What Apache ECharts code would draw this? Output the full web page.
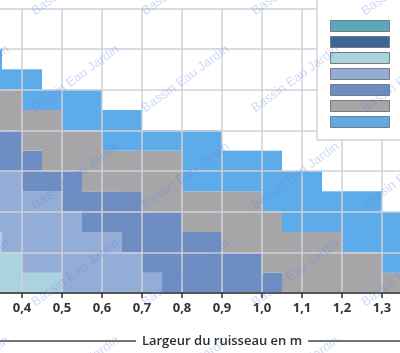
<!DOCTYPE html>
<html>
<head>
<meta charset="utf-8">
<script src="https://cdn.jsdelivr.net/npm/echarts@6/dist/echarts.min.js"></script>
<style>
  html, body { margin: 0; padding: 0; background: #fff; }
  #chart { width: 400px; height: 353px; }
</style>
</head>
<body>
<div id="chart"></div>
<script>
// bins of stream width (start of each 0,05 m step)
var bins = ['0,30', '0,35', '0,40', '0,45', '0,50', '0,55', '0,60', '0,65', '0,70', '0,75', '0,80',
  '0,85', '0,90', '0,95', '1,00', '1,05', '1,10', '1,15', '1,20', '1,25', '1,30']
var tickLabels = ['0,3', '0,4', '0,5', '0,6', '0,7', '0,8', '0,9', '1,0', '1,1', '1,2', '1,3']

// layer thickness per bin, bottom layer first (units of half a grid step)
var teal =       [0, 0, 0, 0, 0, 0, 0, 0, 0, 0, 0, 0, 0, 0, 0, 0, 0, 0, 0, 0, 0]
var darkBlue =   [0, 0, 0, 0, 0, 0, 0, 0, 0, 0, 0, 0, 0, 0, 0, 0, 0, 0, 0, 0, 0]
var lightCyan =  [3, 2, 1, 1, 0, 0, 0, 0, 0, 0, 0, 0, 0, 0, 0, 0, 0, 0, 0, 0, 0]
var periwinkle = [3, 4, 4, 4, 4, 3, 3, 2, 1, 0, 0, 0, 0, 0, 0, 0, 0, 0, 0, 0, 0]
var medium =     [2, 2, 2, 1, 2, 2, 2, 3, 3, 4, 3, 3, 2, 2, 1, 0, 0, 0, 0, 0, 0]
var grey =       [2, 2, 2, 3, 2, 3, 2, 2, 3, 3, 2, 2, 3, 3, 3, 3, 3, 3, 2, 2, 1]
var blue =       [2, 1, 2, 1, 2, 2, 2, 2, 1, 1, 3, 3, 2, 2, 3, 3, 3, 2, 3, 3, 3]

var layers = [
  { name: 'Série 1', color: '#5ba8bc', data: teal },
  { name: 'Série 2', color: '#3f6698', data: darkBlue },
  { name: 'Série 3', color: '#a9d3df', data: lightCyan },
  { name: 'Série 4', color: '#94add7', data: periwinkle },
  { name: 'Série 5', color: '#6e8ec3', data: medium },
  { name: 'Série 6', color: '#a6a6a9', data: grey },
  { name: 'Série 7', color: '#5eabea', data: blue }
]

var chart = echarts.init(document.getElementById('chart'))

// watermark
var marks = []
for (var r = -1; r < 5; r++) {
  for (var c = 0; c < 5; c++) {
    marks.push({
      type: 'text',
      x: -73 + c * 110,
      y: 18 + r * 97,
      rotation: 0.63,
      z: 100,
      silent: true,
      style: {
        text: 'Bassin Eau Jardin',
        font: '13px "Liberation Sans", Arial, sans-serif',
        fill: 'rgba(95,125,225,0.3)',
        textAlign: 'left',
        textVerticalAlign: 'bottom'
      }
    })
  }
}
marks.push(
  { type: 'line', shape: { x1: 0, y1: 341, x2: 136, y2: 341 }, style: { stroke: '#444', lineWidth: 1.5 } },
  { type: 'line', shape: { x1: 308, y1: 341, x2: 400, y2: 341 }, style: { stroke: '#444', lineWidth: 1.5 } },
  {
    type: 'text', x: 222, y: 341,
    style: {
      text: 'Largeur du ruisseau en m',
      font: '600 13px "Open Sans", sans-serif',
      fill: '#2e2e2e',
      textAlign: 'center',
      textVerticalAlign: 'middle'
    }
  }
)

var option = {
  animation: false,
  grid: { left: -18, right: -2, top: 8.3, bottom: 60, outerBoundsMode: 'none', containLabel: false },
  legend: {
    orient: 'vertical',
    left: 317,
    top: -20,
    padding: [40, 40, 12, 13],
    itemWidth: 59,
    itemHeight: 11,
    itemGap: 4,
    icon: 'rect',
    selectedMode: false,
    backgroundColor: '#fff',
    borderColor: '#bdbdc4',
    borderWidth: 1,
    itemStyle: { borderColor: '#7a7a7a', borderWidth: 1 },
    textStyle: { fontSize: 1, lineHeight: 1 },
    formatter: function() { return '' },
    data: layers.map(function(l) { return l.name })
  },
  xAxis: [
    {
      type: 'category',
      data: bins,
      position: 'top',
      z: 3,
      axisLine: { show: true, lineStyle: { color: '#555', width: 2 } },
      axisTick: { show: false },
      axisLabel: { show: false },
      splitLine: { show: false }
    },
    {
      type: 'value',
      position: 'bottom',
      min: 0.3,
      max: 1.35,
      interval: 0.1,
      z: 3,
      axisLine: { show: true, onZero: false, lineStyle: { color: '#555', width: 1 } },
      axisTick: { show: true, length: 5, lineStyle: { color: '#333', width: 1.5 } },
      axisLabel: {
        showMaxLabel: false,
        hideOverlap: false,
        margin: 9,
        color: '#333',
        fontFamily: 'Open Sans',
        fontWeight: 'bold',
        fontSize: 13,
        formatter: function(v) {
          var i = Math.round((v - 0.3) * 10)
          return Math.abs(v - (0.3 + i * 0.1)) < 1e-6 ? tickLabels[i] : ''
        }
      },
      splitLine: { show: true, lineStyle: { color: '#d0d0d8', width: 1.5 } }
    }
  ],
  yAxis: {
    type: 'value',
    min: 0,
    max: 14,
    interval: 2,
    z: 3,
    axisLine: { show: false },
    axisTick: { show: false },
    axisLabel: { show: false },
    splitLine: { show: true, lineStyle: { color: '#d0d0d8', width: 1.5 } }
  },
  series: layers.map(function(l) {
    return {
      name: l.name,
      type: 'bar',
      stack: 'total',
      xAxisIndex: 0,
      barCategoryGap: '0%',
      itemStyle: { color: l.color },
      emphasis: { disabled: true },
      data: l.data
    }
  }),
  graphic: marks
}

chart.setOption(option)
</script>
</body>
</html>
